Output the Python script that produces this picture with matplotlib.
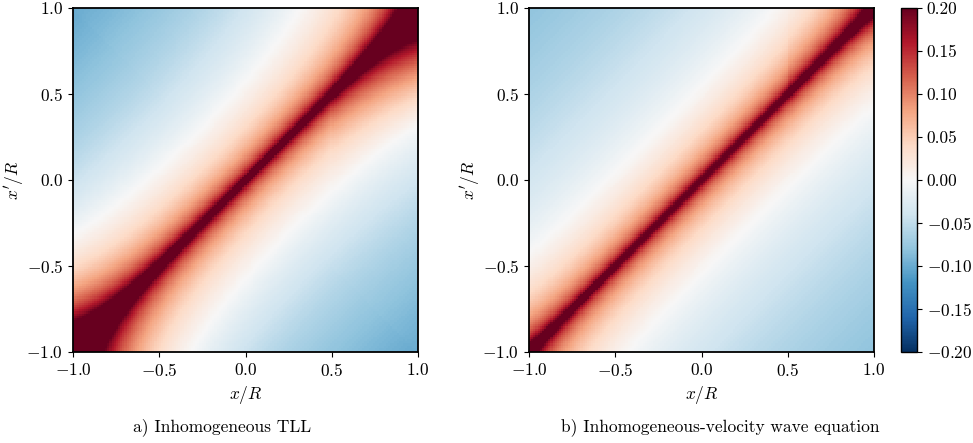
import numpy as np
import matplotlib.pyplot as plt

plt.rcParams['font.family'] = 'serif'
plt.rcParams['font.serif'] = ['cmr10']
plt.rcParams['mathtext.fontset'] = 'cm'
plt.rcParams['axes.formatter.use_mathtext'] = True
plt.rcParams['font.size'] = 12.5

# --- data: grid and model parameters ---
n_grid = 161
x_range = [-1.0, 1.0]
vlim = [-0.2, 0.2]
ticks = [-1.0, -0.5, 0.0, 0.5, 1.0]
cbar_ticks = [-0.20, -0.15, -0.10, -0.05, 0.00, 0.05, 0.10, 0.15, 0.20]
x_step = 0.5  # velocity changes at x/R = 0.5

# log profile across the diagonal: amplitude, zero-crossing distance, core, far-field scale
prof_a = [0.065, 0.55, 0.01, 1.2]
prof_b = [0.062, 0.55, 0.006, 1.0]
# corner growth: lower-left strength, upper-right strength, width, zero-line shift
corner_a = [1.2, 0.35, 0.5, 1.0]
corner_b = [0.25, 0.2, 0.35, 0.3]
# jump / slope of the columns right of x_step, side weighting (+1 below diag, -1 above)
col_a = [0.05, 1.1, 1.0]
col_b = [0.10, 0.0, -1.0]

captions = ['a) Inhomogeneous TLL', 'b) Inhomogeneous-velocity wave equation']


def field(prof, corner, col):
    xs = np.linspace(x_range[0], x_range[1], n_grid)
    X, XP = np.meshgrid(xs, xs)
    d = np.abs(X - XP)
    s = X + XP
    amp, d0, eps, neg = prof
    k_ll, k_ur, w, m = corner
    near = np.where(s < 0, k_ll, k_ur) * np.exp(-(2 - np.abs(s)) / w)
    d0_eff = d0 * (1 + m * np.exp(-(2 - np.abs(s)) / w))
    h = amp * np.log(d0_eff / np.sqrt(d**2 + eps**2))
    g = h * (1 + near)
    g = np.where(g < 0, g * neg, g)
    side = 1 / (1 + np.exp(-col[2] * (X - XP) / 0.1))
    boost = np.where(X > x_step, (col[0] + col[1] * (X - x_step)) * side, 0.0)
    return np.where(g > 0, g * (1 + boost), g)


fields = [field(prof_a, corner_a, col_a), field(prof_b, corner_b, col_b)]

fig = plt.figure(figsize=(9.73, 4.43), dpi=100)
ax_pos = [[73 / 973, 91 / 443, 345 / 973, 344 / 443],
          [529 / 973, 91 / 443, 345 / 973, 344 / 443]]
cap_x = [222 / 973, 720 / 973]

for i in range(2):
    ax = fig.add_axes(ax_pos[i])
    im = ax.imshow(fields[i], origin='lower', extent=[-1, 1, -1, 1], cmap='RdBu_r',
                   vmin=vlim[0], vmax=vlim[1], interpolation='nearest', aspect='auto')
    ax.set_xticks(ticks)
    ax.set_yticks(ticks)
    ax.set_xlabel(r'$x/R$')
    ax.set_ylabel(r"$x'/R$")
    ax.yaxis.set_label_coords(-0.135, 0.5)
    for sp in ax.spines.values():
        sp.set_linewidth(1.3)
    fig.text(cap_x[i], 1 - 427 / 443, captions[i], ha='center', va='center')

cax = fig.add_axes([901 / 973, 91 / 443, 16 / 973, 344 / 443])
cb = fig.colorbar(im, cax=cax, ticks=cbar_ticks)
cb.ax.set_yticklabels([f'{t:.2f}' if t >= 0 else f'$-${abs(t):.2f}' for t in cbar_ticks])
cb.outline.set_linewidth(1.0)

fig.savefig('out.png', dpi=100)
